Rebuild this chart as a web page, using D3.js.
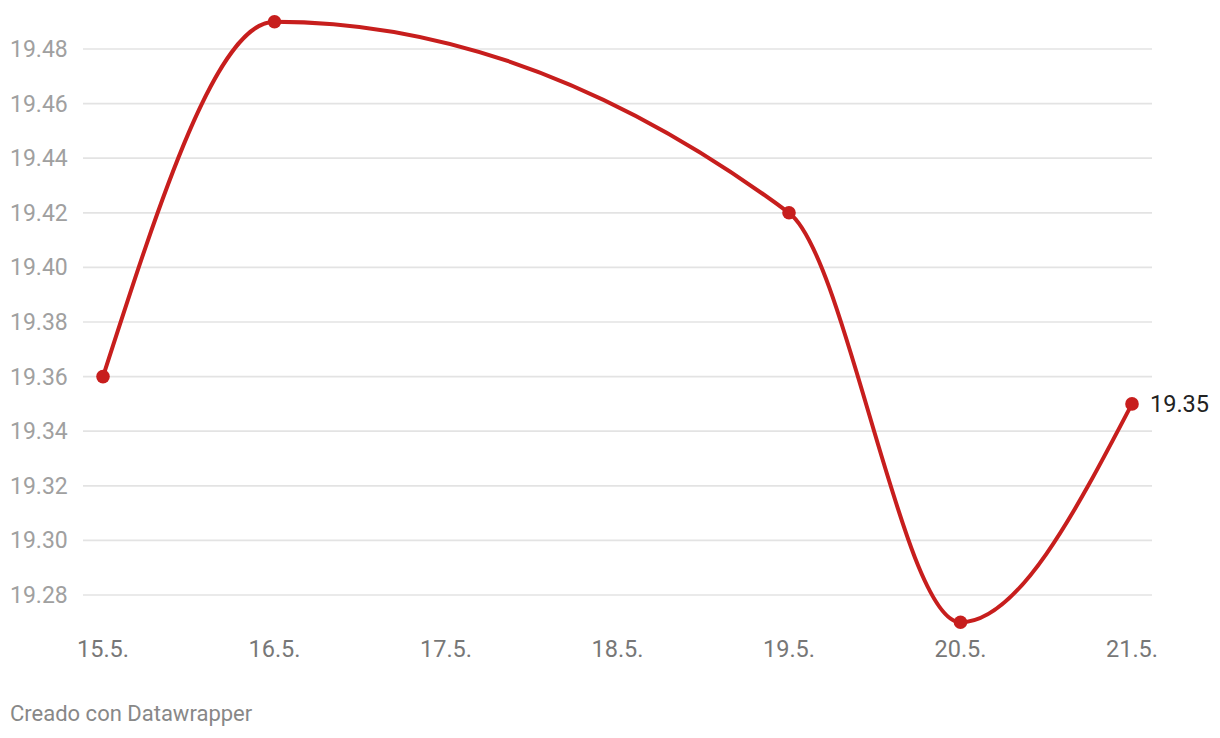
<!DOCTYPE html>
<html><head><meta charset="utf-8">
<script src="https://cdn.jsdelivr.net/npm/d3@7"></script>
<style>
body{margin:0;background:#fff;font-family:Roboto,"Noto Sans",sans-serif;}
</style></head>
<body><svg id="c" width="1220" height="738"></svg>
<script>
const dates = [15, 16, 19, 20, 21];
const values = [19.36, 19.49, 19.42, 19.27, 19.35];
const xTickDays = [15, 16, 17, 18, 19, 20, 21];
const yTicks = [19.28, 19.30, 19.32, 19.34, 19.36, 19.38, 19.40, 19.42, 19.44, 19.46, 19.48];

const svg = d3.select("#c");
const x = d3.scaleLinear().domain([15, 21]).range([103, 1132]);
const y = d3.scaleLinear().domain([19.28, 19.48]).range([595, 49]);

const grid = svg.append("g");
grid.selectAll("line").data(yTicks).join("line")
  .attr("x1", 83).attr("x2", 1152)
  .attr("y1", d => y(d)).attr("y2", d => y(d))
  .attr("stroke", "#e3e3e3").attr("stroke-width", 1.7);
grid.selectAll("text").data(yTicks).join("text")
  .attr("x", 10).attr("y", d => y(d)).attr("dy", "0.35em")
  .attr("font-size", 23).attr("fill", "#a0a0a0")
  .text(d => d.toFixed(2));

svg.append("g").selectAll("text").data(xTickDays).join("text")
  .attr("x", d => x(d)).attr("y", 657).attr("text-anchor", "middle")
  .attr("font-size", 23.5).attr("fill", "#777")
  .text(d => d + ".5.");

const pts = dates.map((d, i) => [d, values[i]]);
const line = d3.line().x(d => x(d[0])).y(d => y(d[1])).curve(d3.curveMonotoneX);
svg.append("path").attr("d", line(pts)).attr("fill", "none")
  .attr("stroke", "#c71e1d").attr("stroke-width", 4);
svg.append("g").selectAll("circle").data(pts).join("circle")
  .attr("cx", d => x(d[0])).attr("cy", d => y(d[1])).attr("r", 6.8)
  .attr("fill", "#c71e1d");

const last = pts[pts.length - 1];
svg.append("text").attr("x", x(last[0]) + 18).attr("y", y(last[1])).attr("dy", "0.35em")
  .attr("font-size", 23.5).attr("fill", "#222").text(last[1].toFixed(2));

svg.append("text").attr("x", 10).attr("y", 721).attr("font-size", 22).attr("fill", "#888")
  .text("Creado con Datawrapper");
</script></body></html>
